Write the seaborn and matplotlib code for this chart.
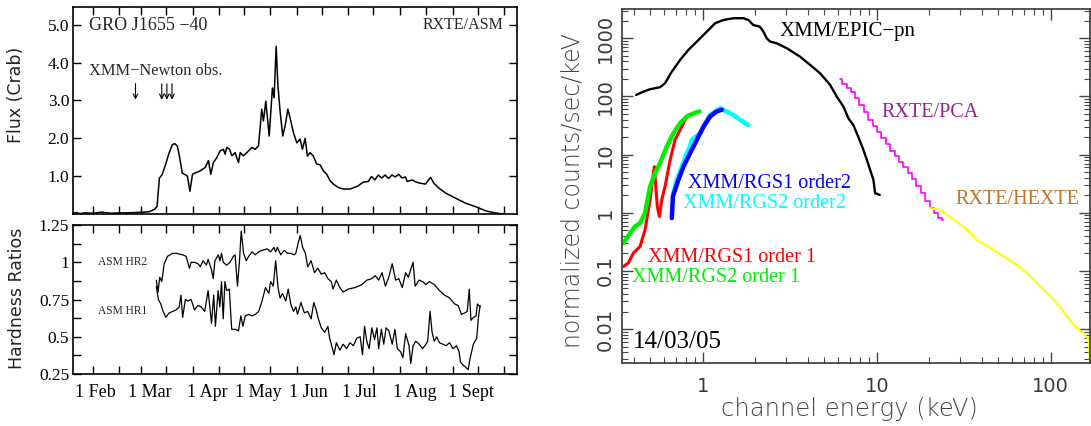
import matplotlib
matplotlib.use("Agg")
import numpy as np
import pandas as pd
import matplotlib.pyplot as plt
import matplotlib.dates as mdates
import matplotlib.ticker as mticker
from matplotlib.transforms import ScaledTranslation
import seaborn as sns

# ---------------- data: RXTE/ASM light curve (days since 2005-02-01) ----------------
lc_day = [-12, -10, -8, -5, 0, 5, 10, 15, 20, 25, 30, 33, 36, 37.6, 39, 40.6, 42.6, 44.6, 46.6, 48,
          49.5, 50.5, 52.5, 54.5, 55.5, 57, 58.5, 63.0, 66.0, 67.9, 69.3, 70.8, 72.8, 74.8, 76.7, 77.7,
          78.7, 80.3, 81.7, 83.6, 85.6, 86.6, 88.5, 90.5, 93.5, 95.4, 97.4, 99.3, 100.3, 101.7, 103.7,
          105.6, 106.6, 107.8, 108.8, 110.1, 111.7, 113.1, 114.7, 116.0, 118.0, 120.0, 121.9, 123.3,
          124.9, 126.2, 127.8, 129.7, 131.7, 133.7, 135.6, 137.6, 139.6, 141.5, 144.5, 147.4, 151.4,
          156, 159, 162, 164, 166, 168, 170, 172, 174, 176, 178, 180, 182, 184, 185, 188, 190, 192,
          195.8, 198.8, 200.8, 203.8, 207.8, 211.7, 215.7, 219.7, 223.7, 227.7, 231.6, 235.6, 239.6, 242.6]
lc_flux = [0.02, 0.04, 0.01, 0.03, 0.02, 0.05, 0.02, 0.03, 0.03, 0.04,
           0.05, 0.06, 0.12, 0.20, 0.95, 1.04, 1.30, 1.60, 1.83, 1.86,
           1.80, 1.60, 1.08, 1.03, 1.00, 0.60, 1.05, 1.14, 1.23, 1.41,
           1.05, 1.36, 1.49, 1.67, 1.71, 1.58, 1.76, 1.71, 1.54, 1.62,
           1.36, 1.62, 1.54, 1.62, 1.76, 1.71, 1.80, 2.77, 2.46, 2.98,
           2.06, 3.33, 3.07, 4.43, 3.42, 2.72, 2.06, 2.33, 2.77, 2.54,
           2.15, 1.88, 1.98, 1.71, 2.00, 1.53, 1.62, 1.53, 1.32, 1.30,
           1.14, 1.05, 0.88, 0.79, 0.70, 0.66, 0.66, 0.74, 0.84, 0.86,
           0.99, 0.90, 1.03, 0.95, 1.03, 0.94, 1.03, 0.98, 1.05, 0.95,
           0.98, 0.86, 0.90, 0.85, 0.82, 0.79, 0.97, 0.81, 0.68, 0.55,
           0.46, 0.37, 0.28, 0.22, 0.15, 0.08, 0.04, 0.01, 0.01]
obs_day = [24.9, 40.4, 43.4, 46.4]

# ---------------- hardness ratios ----------------
hr2_day = [37.2, 38.2, 39.2, 40.4, 41.8, 43.8, 46.8, 48.8, 52.7, 54.7,
           56.7, 57.7, 59.7, 61.7, 63.1, 64.7, 66.7, 67.7, 69.7, 70.7,
           71.7, 73.7, 74.7, 75.6, 76.6, 78.6, 80.6, 82.6, 83.6, 85.0,
           86.2, 87.2, 88.6, 90.2, 91.6, 93.6, 95.5, 97.5, 99.5, 102.5,
           104.5, 106.5, 107.5, 108.5, 110.5, 112.5, 114.5, 116.4, 118.4, 119.4,
           120.8, 122.0, 123.4, 125.0, 126.4, 128.4, 130.4, 132.4, 134.4, 136.4,
           138.3, 140.3, 141.3, 143.3, 145.3, 147.3, 150.3, 154.3, 158.3, 161.2,
           164.2, 166.2, 168.2, 170.2, 172.2, 174.2, 176.2, 178.2, 180.1, 182.1,
           184.1, 185.7, 187.1, 188.5, 189.7, 192.1, 194.1, 196.1, 198.1, 201.0,
           204.0, 207.0, 210.0, 213.0, 215.0, 217.0, 219.0, 220.4, 221.6, 222.6,
           224.0, 225.6, 226.4, 228.0]
hr2_val = [0.88, 0.80, 0.90, 0.87, 0.99, 1.04, 1.06, 1.06, 1.05, 1.04,
           0.96, 1.00, 1.00, 0.99, 0.97, 1.01, 0.98, 1.02, 0.95, 0.89,
           1.01, 1.05, 1.01, 1.06, 1.00, 0.98, 1.00, 1.04, 1.05, 0.84,
           1.01, 1.21, 1.06, 1.01, 1.04, 1.07, 1.05, 1.07, 1.08, 1.09,
           1.07, 1.10, 1.07, 1.10, 1.05, 1.08, 1.06, 1.06, 1.05, 1.06,
           1.13, 1.18, 1.10, 1.06, 0.97, 1.01, 0.93, 0.96, 0.92, 0.93,
           0.89, 0.87, 0.82, 0.88, 0.83, 0.80, 0.82, 0.83, 0.85, 0.88,
           0.89, 0.91, 0.88, 0.93, 0.84, 0.90, 0.99, 0.88, 0.89, 0.83,
           0.93, 0.90, 0.95, 1.00, 0.84, 0.88, 0.87, 0.85, 0.87, 0.85,
           0.81, 0.78, 0.76, 0.72, 0.71, 0.65, 0.66, 0.67, 0.82, 0.61,
           0.63, 0.64, 0.72, 0.70]
hr1_day = [37.2, 38.4, 39.8, 41.2, 42.8, 44.8, 46.8, 48.8, 50.7, 51.7,
           52.7, 54.3, 55.7, 57.7, 59.7, 61.7, 63.7, 65.7, 67.7, 69.7,
           71.0, 72.0, 73.6, 74.6, 75.6, 76.6, 77.6, 78.6, 80.2, 81.6,
           83.6, 85.6, 87.0, 88.2, 89.6, 91.6, 93.6, 95.5, 97.5, 99.5,
           101.5, 103.5, 104.5, 106.1, 107.5, 108.9, 110.1, 111.5, 113.5, 114.9,
           116.4, 118.0, 119.4, 120.4, 122.4, 124.4, 126.4, 128.4, 130.0, 131.4,
           132.4, 134.4, 136.4, 138.3, 139.3, 140.3, 141.9, 143.3, 145.3, 147.3,
           149.3, 151.3, 153.3, 155.3, 157.3, 158.7, 159.9, 161.2, 162.6, 164.2,
           165.8, 167.2, 168.2, 169.8, 171.2, 172.6, 174.2, 176.2, 177.8, 179.2,
           181.1, 182.5, 184.1, 186.1, 187.1, 188.5, 190.1, 192.1, 194.1, 196.1,
           197.1, 198.5, 199.7, 201.0, 202.4, 204.0, 206.0, 208.0, 210.0, 212.0,
           214.0, 215.6, 216.4, 218.0, 220.0, 221.0, 222.0, 224.0, 226.0, 227.0,
           228.0]
hr1_val = [0.84, 0.75, 0.72, 0.67, 0.63, 0.66, 0.67, 0.68, 0.70, 0.78,
           0.63, 0.75, 0.74, 0.75, 0.68, 0.71, 0.70, 0.67, 0.81, 0.59,
           0.78, 0.57, 0.81, 0.70, 0.87, 0.62, 0.87, 0.81, 0.82, 0.55,
           0.55, 0.54, 0.64, 0.57, 0.64, 0.65, 0.64, 0.65, 0.67, 0.74,
           0.83, 0.79, 0.87, 0.84, 1.01, 0.83, 0.76, 0.79, 0.74, 0.82,
           0.72, 0.67, 0.70, 0.65, 0.73, 0.66, 0.67, 0.62, 0.73, 0.68,
           0.63, 0.56, 0.53, 0.57, 0.49, 0.45, 0.38, 0.46, 0.41, 0.45,
           0.42, 0.46, 0.44, 0.49, 0.50, 0.38, 0.57, 0.47, 0.42, 0.56,
           0.48, 0.56, 0.42, 0.55, 0.45, 0.56, 0.54, 0.45, 0.55, 0.42,
           0.40, 0.36, 0.52, 0.44, 0.32, 0.44, 0.47, 0.45, 0.42, 0.45,
           0.47, 0.67, 0.53, 0.47, 0.50, 0.46, 0.45, 0.44, 0.46, 0.42,
           0.44, 0.40, 0.33, 0.31, 0.29, 0.28, 0.35, 0.45, 0.49, 0.63,
           0.71]

month_labels = ["1 Feb", "1 Mar", "1 Apr", "1 May", "1 Jun", "1 Jul", "1 Aug", "1 Sept", ""]

# ---------------- broadband spectrum (keV, counts/s/keV) ----------------
epic_e = [0.414, 0.456, 0.498, 0.568, 0.607, 0.664, 0.741, 0.826, 0.924, 1.055,
          1.177, 1.313, 1.50, 1.71, 1.83, 1.95, 2.13, 2.23, 2.33, 2.44,
          2.66, 3.04, 3.62, 4.14, 4.72, 5.39, 5.89, 6.43, 6.87, 7.34,
          7.84, 8.38, 8.77, 9.15, 9.56, 9.78, 10.4]
epic_c = [106, 121, 133, 144, 169, 267, 424, 630, 875, 1300,
          1810, 2060, 2210, 2210, 2060, 1690, 1580, 1300, 1000, 875,
          820, 673, 483, 348, 250, 158, 99, 67, 42, 32,
          20, 12, 8.1, 5.5, 3.7, 2.17, 2.03]
rgs1o1_e = [0.350, 0.373, 0.399, 0.436, 0.466, 0.498, 0.520, 0.527, 0.537, 0.548,
            0.563, 0.581, 0.607, 0.649, 0.693, 0.741, 0.791, 0.826]
rgs1o1_c = [0.119, 0.136, 0.202, 0.263, 0.508, 1.67, 4.8, 6.2, 2.82, 1.28,
            0.86, 1.67, 2.82, 8.1, 17.9, 26.6, 39.5, 48]
rgs2o1_e = [0.350, 0.382, 0.408, 0.436, 0.466, 0.498, 0.532, 0.568, 0.621, 0.678,
            0.741, 0.809, 0.883, 0.957]
rgs2o1_c = [0.30, 0.446, 0.58, 0.66, 1.0, 2.82, 4.8, 7.1, 13.7, 23.3,
            34.7, 45, 51, 55]
rgs1o2_e = [0.664, 0.673, 0.693, 0.724, 0.774, 0.845, 0.924, 1.008, 1.10, 1.20, 1.285]
rgs1o2_c = [0.81, 1.90, 2.47, 3.67, 6.2, 10.6, 17.9, 30, 45, 55, 59]
rgs2o2_e = [0.678, 0.709, 0.757, 0.809, 0.845, 0.865, 0.965, 1.10, 1.26, 1.37, 1.50, 1.64, 1.83]
rgs2o2_c = [2.17, 3.67, 6.2, 10.6, 13.7, 17.9, 23.3, 48, 63, 55, 48, 39.5, 32]
pca_e = [6.15, 6.5, 6.9, 7.3, 7.7, 8.2, 8.7, 9.2, 9.7, 10.3, 10.9, 11.6, 12.3, 13.0, 13.8,
         14.6, 15.5, 16.4, 17.4, 18.4, 19.5, 20.7, 21.9, 23.2, 24.1]
pca_c = [198, 165, 140, 121, 95, 70, 53, 40, 31, 24, 19, 15, 11.5, 9.3, 7.5,
         6.0, 4.8, 3.8, 2.9, 2.2, 1.6, 1.2, 0.98, 0.82, 0.75]
hexte_e = [20.2, 23.1, 25.2, 28.8, 32.9, 37.6, 44.8, 53.5, 63.8, 72.8, 83.2, 94.9,
           108, 124, 141, 154, 165, 168]
hexte_c = [1.2, 1.12, 0.92, 0.71, 0.51, 0.34, 0.25, 0.177, 0.127, 0.092, 0.062, 0.042,
           0.028, 0.0165, 0.0104, 0.0085, 0.0066, 0.0026]

x3_ticks = [1, 10, 100]
y3_ticks = [0.01, 0.1, 1, 10, 100, 1000]

# ---------------- figure ----------------
sns.set_theme(style="white")
plt.rcParams["font.family"] = ["Liberation Serif", "DejaVu Serif"]

W, H = 1091, 426
fig = plt.figure(figsize=(W / 100, H / 100), dpi=100)


def rect(x0, y0, x1, y1):
    return [x0 / W, 1 - y1 / H, (x1 - x0) / W, (y1 - y0) / H]


ax1 = fig.add_axes(rect(72.7, 7, 516.6, 214))
ax2 = fig.add_axes(rect(72.7, 225, 516.6, 374))
ax3 = fig.add_axes(rect(621.7, 9, 1090, 362.7))

T0 = pd.Timestamp("2005-02-01")


def to_date(days):
    return T0 + pd.to_timedelta(np.asarray(days, dtype=float), unit="D")


lc = pd.DataFrame({"date": to_date(lc_day), "flux": lc_flux})
sns.lineplot(data=lc, x="date", y="flux", ax=ax1, color="black", lw=1.1,
             sort=False, estimator=None)
hr2 = pd.DataFrame({"date": to_date(hr2_day), "hr": hr2_val})
hr1 = pd.DataFrame({"date": to_date(hr1_day), "hr": hr1_val})
sns.lineplot(data=hr2, x="date", y="hr", ax=ax2, color="black", lw=0.9, sort=False, estimator=None)
sns.lineplot(data=hr1, x="date", y="hr", ax=ax2, color="black", lw=0.9, sort=False, estimator=None)

xmin, xmax = to_date([-12.1, 249.5])
month_starts = pd.date_range("2005-02-01", "2005-10-01", freq="MS")
mid_months = month_starts[:-1] + pd.Timedelta(days=15)
for ax in (ax1, ax2):
    ax.set_xlim(xmin, xmax)
    ax.set_xlabel("")
    ax.set_ylabel("")
    ax.set_xticks(mdates.date2num(month_starts))
    ax.set_xticks(mdates.date2num(mid_months), minor=True)
    ax.tick_params(which="both", direction="in", top=True, right=True, bottom=True, left=True,
                   length=6, width=1.0, color="black", labelsize=12.5, labelcolor="black", pad=2.5)
    for s in ax.spines.values():
        s.set_color("black")
        s.set_linewidth(1.2)

ax1.set_xticklabels([])
ax1.set_ylim(0, 5.47)
ax1.set_yticks([1, 2, 3, 4, 5])
ax1.set_yticklabels(["1.0", "2.0", "3.0", "4.0", "5.0"])

ax2.set_ylim(0.25, 1.25)
ax2.set_yticks([0.25, 0.5, 0.75, 1.0, 1.25])
ax2.set_yticklabels(["0.25", "0.5", "0.75", "1", "1.25"])
ax2.set_yticks([0.375, 0.625, 0.875, 1.125], minor=True)
ax2.set_xticklabels(month_labels)
ax2.tick_params(axis="x", labelsize=13, pad=7)
ax2.tick_params(axis="y", which="minor", length=6)
offsets = [2, 9, 14, 14, 12, 12, 14, 18, 0]
for lab, dx in zip(ax2.get_xticklabels(), offsets):
    lab.set_transform(lab.get_transform() + ScaledTranslation(dx / 100, 0, fig.dpi_scale_trans))

# observation arrows
for d in to_date(obs_day):
    ax1.annotate("", xy=(d, 3.02), xytext=(d, 3.44),
                 arrowprops=dict(arrowstyle="->", lw=0.8, color="black",
                                 shrinkA=0, shrinkB=0, mutation_scale=8))

ax1.text(0.036, 0.911, "GRO J1655 \u221240", transform=ax1.transAxes, fontsize=13,
         ha="left", va="center")
ax1.text(0.971, 0.913, "RXTE/ASM", transform=ax1.transAxes, fontsize=11.5,
         ha="right", va="center")
ax1.text(0.036, 0.691, "XMM\u2212Newton obs.", transform=ax1.transAxes, fontsize=11.8,
         ha="left", va="center")
ax2.text(0.057, 1.0, "ASM HR2", transform=ax2.get_yaxis_transform(), fontsize=8.3,
         ha="left", va="center")
ax2.text(0.057, 0.673, "ASM HR1", transform=ax2.get_yaxis_transform(), fontsize=8.3,
         ha="left", va="center")

fig.text(16 / W, 1 - 95 / H, "Flux (Crab)", rotation=90, ha="center", va="center",
         fontsize=12.5, family="DejaVu Sans", color="#222")
fig.text(17 / W, 1 - 298.6 / H, "Hardness Ratios", rotation=90, ha="center", va="center",
         fontsize=12.5, family="DejaVu Sans", color="#222")

# ---------------- right: spectrum ----------------
ax3.set_xscale("log")
ax3.set_yscale("log")

series = [
    (epic_e, epic_c, "black", 1.7, "default"),
    (rgs1o1_e, rgs1o1_c, "#ff0000", 2.2, "default"),
    (rgs2o1_e, rgs2o1_c, "#00ee00", 3.2, "default"),
    (rgs2o2_e, rgs2o2_c, "#00ffff", 3.2, "default"),
    (rgs1o2_e, rgs1o2_c, "#0000ff", 3.2, "default"),
    (pca_e, pca_c, "#ff00ff", 1.2, "steps-mid"),
    (hexte_e, hexte_c, "#ffff00", 1.5, "default"),
]
for e, c, col, lw, ds in series:
    df = pd.DataFrame({"E": e, "C": c})
    sns.lineplot(data=df, x="E", y="C", ax=ax3, color=col, lw=lw, sort=False,
                 estimator=None, drawstyle=ds)

ax3.set_xlim(0.342, 168)
ax3.set_ylim(0.00264, 3185)
ax3.set_xlabel("")
ax3.set_ylabel("")
ax3.xaxis.set_major_locator(mticker.FixedLocator(x3_ticks))
ax3.yaxis.set_major_locator(mticker.FixedLocator(y3_ticks))
ax3.xaxis.set_minor_locator(mticker.LogLocator(base=10, subs=np.arange(2, 10), numticks=20))
ax3.yaxis.set_minor_locator(mticker.LogLocator(base=10, subs=np.arange(2, 10), numticks=20))
fmt = mticker.FuncFormatter(lambda v, p: "%g" % v)
ax3.xaxis.set_major_formatter(fmt)
ax3.yaxis.set_major_formatter(fmt)
ax3.xaxis.set_minor_formatter(mticker.NullFormatter())
ax3.yaxis.set_minor_formatter(mticker.NullFormatter())
ax3.tick_params(which="both", direction="in", top=True, right=True, bottom=True, left=True,
                color="#444", labelcolor="#3a3a3a", labelsize=14, labelfontfamily="DejaVu Sans")
ax3.tick_params(which="major", length=8, width=1.0)
ax3.tick_params(which="minor", length=4, width=0.8)
ax3.tick_params(axis="x", pad=10)
ax3.tick_params(axis="y", labelrotation=90, pad=5)
for lab in ax3.get_yticklabels():
    lab.set_va("center")
for s in ax3.spines.values():
    s.set_color("#444")
    s.set_linewidth(1.3)

labels3 = [
    ("XMM/EPIC\u2212pn", 0.338, 0.935, "black", 15),
    ("RXTE/PCA", 0.555, 0.706, "#9b1f8f", 14.5),
    ("RXTE/HEXTE", 0.712, 0.460, "#c8701e", 14.5),
    ("XMM/RGS1 order2", 0.1416, 0.508, "#0000ff", 14.5),
    ("XMM/RGS2 order2", 0.131, 0.4515, "#00ffff", 14.5),
    ("XMM/RGS1 order 1", 0.056, 0.2988, "#ff0000", 14.5),
    ("XMM/RGS2 order 1", 0.022, 0.242, "#00ee00", 14.5),
    ("14/03/05", 0.024, 0.058, "black", 18),
]
for txt, x, y, col, fs in labels3:
    ax3.text(x, y, txt, transform=ax3.transAxes, color=col, fontsize=fs, ha="left", va="center")

fig.text(572 / W, 1 - 191 / H, "normalized counts/sec/keV", rotation=90, ha="center",
         va="center", fontsize=17, family="DejaVu Sans", color="#444", fontweight="light")
fig.text(849 / W, 1 - 409 / H, "channel energy (keV)", ha="center", va="center",
         fontsize=17.5, family="DejaVu Sans", color="#444", fontweight="light")

fig.savefig("out.png", dpi=100)
